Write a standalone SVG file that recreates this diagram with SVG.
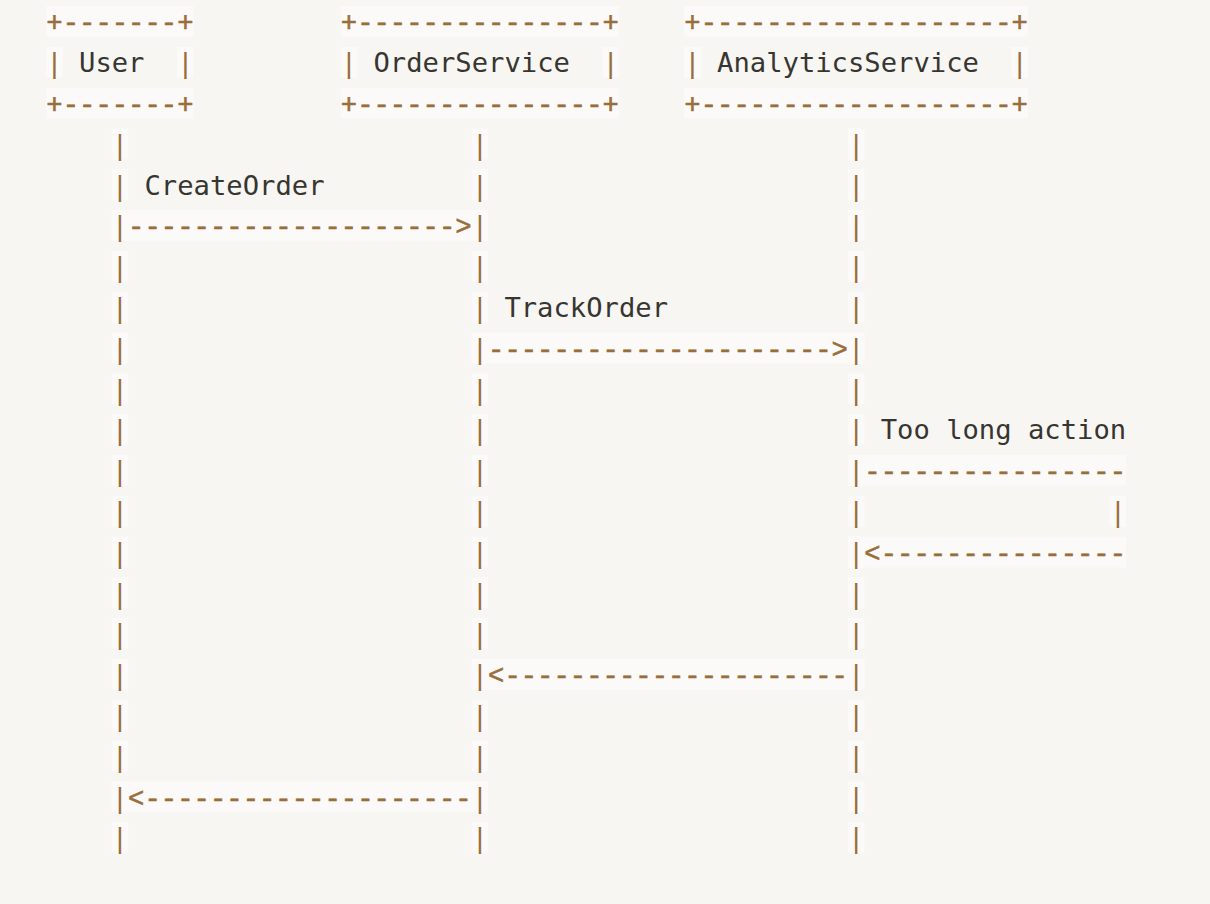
<svg xmlns="http://www.w3.org/2000/svg" xmlns:xlink="http://www.w3.org/1999/xlink" width="1210" height="904" viewBox="0 0 1210 904">
<style>
text{font-family:"DejaVu Sans Mono","Liberation Mono",monospace;font-size:27.2px}
.op{fill:#9a6e3a}
.tx{fill:#37352f}
.bg{fill:#fbfaf9}
.ln{font-family:"Liberation Mono","DejaVu Sans Mono",monospace;stroke:#9a6e3a;stroke-width:0.6}
</style>
<defs>
<g id="bar"><rect class="bg" x="0" y="0" width="16.36" height="30.7"/><text class="op" x="0" y="25.2">|</text></g>
</defs>
<rect width="1210" height="904" fill="#f7f6f3"/>

<g id="connectors">
<g id="msg-createorder">
<text class="tx" x="144.46" y="194.6">CreateOrder</text>
<rect class="bg" x="111.74" y="210.2" width="376.28" height="30.7"/>
<text class="op ln" x="128.1" y="235.4" textLength="343.56" lengthAdjust="spacing">--------------------&gt;</text>
</g>
<g id="msg-trackorder">
<text class="tx" x="504.38" y="317">TrackOrder</text>
<rect class="bg" x="471.66" y="332.6" width="392.64" height="30.7"/>
<text class="op ln" x="488.02" y="357.8" textLength="359.92" lengthAdjust="spacing">---------------------&gt;</text>
</g>
<g id="msg-toolongaction">
<text class="tx" x="880.66" y="439.4">Too long action</text>
<rect class="bg" x="847.94" y="455" width="278.12" height="30.7"/>
<text class="op ln" x="864.3" y="480.2" textLength="261.76" lengthAdjust="spacing">----------------</text>
<use xlink:href="#bar" x="1109.7" y="495.8"/>
<rect class="bg" x="847.94" y="536.6" width="278.12" height="30.7"/>
<text class="op ln" x="864.3" y="561.8" textLength="261.76" lengthAdjust="spacing">&lt;---------------</text>
</g>
<g id="msg-return-analytics">
<rect class="bg" x="471.66" y="659" width="392.64" height="30.7"/>
<text class="op ln" x="488.02" y="684.2" textLength="359.92" lengthAdjust="spacing">&lt;---------------------</text>
</g>
<g id="msg-return-order">
<rect class="bg" x="111.74" y="781.4" width="376.28" height="30.7"/>
<text class="op ln" x="128.1" y="806.6" textLength="343.56" lengthAdjust="spacing">&lt;--------------------</text>
</g>
</g>

<g id="user">
<rect class="bg" x="46.3" y="6.2" width="147.24" height="30.7"/>
<text class="op ln" x="46.3" y="31.4" textLength="147.24" lengthAdjust="spacing">+-------+</text>
<use xlink:href="#bar" x="46.3" y="47"/>
<text class="tx" x="79.02" y="72.2">User</text>
<use xlink:href="#bar" x="177.18" y="47"/>
<rect class="bg" x="46.3" y="87.8" width="147.24" height="30.7"/>
<text class="op ln" x="46.3" y="113" textLength="147.24" lengthAdjust="spacing">+-------+</text>
<g id="user-lifeline">
<use xlink:href="#bar" x="111.74" y="128.6"/><use xlink:href="#bar" x="111.74" y="169.4"/><use xlink:href="#bar" x="111.74" y="210.2"/><use xlink:href="#bar" x="111.74" y="251"/><use xlink:href="#bar" x="111.74" y="291.8"/><use xlink:href="#bar" x="111.74" y="332.6"/><use xlink:href="#bar" x="111.74" y="373.4"/><use xlink:href="#bar" x="111.74" y="414.2"/><use xlink:href="#bar" x="111.74" y="455"/><use xlink:href="#bar" x="111.74" y="495.8"/><use xlink:href="#bar" x="111.74" y="536.6"/><use xlink:href="#bar" x="111.74" y="577.4"/><use xlink:href="#bar" x="111.74" y="618.2"/><use xlink:href="#bar" x="111.74" y="659"/><use xlink:href="#bar" x="111.74" y="699.8"/><use xlink:href="#bar" x="111.74" y="740.6"/><use xlink:href="#bar" x="111.74" y="781.4"/><use xlink:href="#bar" x="111.74" y="822.2"/>
</g>
</g>

<g id="orderservice">
<rect class="bg" x="340.78" y="6.2" width="278.12" height="30.7"/>
<text class="op ln" x="340.78" y="31.4" textLength="278.12" lengthAdjust="spacing">+---------------+</text>
<use xlink:href="#bar" x="340.78" y="47"/>
<text class="tx" x="373.5" y="72.2">OrderService</text>
<use xlink:href="#bar" x="602.54" y="47"/>
<rect class="bg" x="340.78" y="87.8" width="278.12" height="30.7"/>
<text class="op ln" x="340.78" y="113" textLength="278.12" lengthAdjust="spacing">+---------------+</text>
<g id="orderservice-lifeline">
<use xlink:href="#bar" x="471.66" y="128.6"/><use xlink:href="#bar" x="471.66" y="169.4"/><use xlink:href="#bar" x="471.66" y="210.2"/><use xlink:href="#bar" x="471.66" y="251"/><use xlink:href="#bar" x="471.66" y="291.8"/><use xlink:href="#bar" x="471.66" y="332.6"/><use xlink:href="#bar" x="471.66" y="373.4"/><use xlink:href="#bar" x="471.66" y="414.2"/><use xlink:href="#bar" x="471.66" y="455"/><use xlink:href="#bar" x="471.66" y="495.8"/><use xlink:href="#bar" x="471.66" y="536.6"/><use xlink:href="#bar" x="471.66" y="577.4"/><use xlink:href="#bar" x="471.66" y="618.2"/><use xlink:href="#bar" x="471.66" y="659"/><use xlink:href="#bar" x="471.66" y="699.8"/><use xlink:href="#bar" x="471.66" y="740.6"/><use xlink:href="#bar" x="471.66" y="781.4"/><use xlink:href="#bar" x="471.66" y="822.2"/>
</g>
</g>

<g id="analyticsservice">
<rect class="bg" x="684.34" y="6.2" width="343.56" height="30.7"/>
<text class="op ln" x="684.34" y="31.4" textLength="343.56" lengthAdjust="spacing">+-------------------+</text>
<use xlink:href="#bar" x="684.34" y="47"/>
<text class="tx" x="717.06" y="72.2">AnalyticsService</text>
<use xlink:href="#bar" x="1011.54" y="47"/>
<rect class="bg" x="684.34" y="87.8" width="343.56" height="30.7"/>
<text class="op ln" x="684.34" y="113" textLength="343.56" lengthAdjust="spacing">+-------------------+</text>
<g id="analyticsservice-lifeline">
<use xlink:href="#bar" x="847.94" y="128.6"/><use xlink:href="#bar" x="847.94" y="169.4"/><use xlink:href="#bar" x="847.94" y="210.2"/><use xlink:href="#bar" x="847.94" y="251"/><use xlink:href="#bar" x="847.94" y="291.8"/><use xlink:href="#bar" x="847.94" y="332.6"/><use xlink:href="#bar" x="847.94" y="373.4"/><use xlink:href="#bar" x="847.94" y="414.2"/><use xlink:href="#bar" x="847.94" y="455"/><use xlink:href="#bar" x="847.94" y="495.8"/><use xlink:href="#bar" x="847.94" y="536.6"/><use xlink:href="#bar" x="847.94" y="577.4"/><use xlink:href="#bar" x="847.94" y="618.2"/><use xlink:href="#bar" x="847.94" y="659"/><use xlink:href="#bar" x="847.94" y="699.8"/><use xlink:href="#bar" x="847.94" y="740.6"/><use xlink:href="#bar" x="847.94" y="781.4"/><use xlink:href="#bar" x="847.94" y="822.2"/>
</g>
</g>
</svg>
